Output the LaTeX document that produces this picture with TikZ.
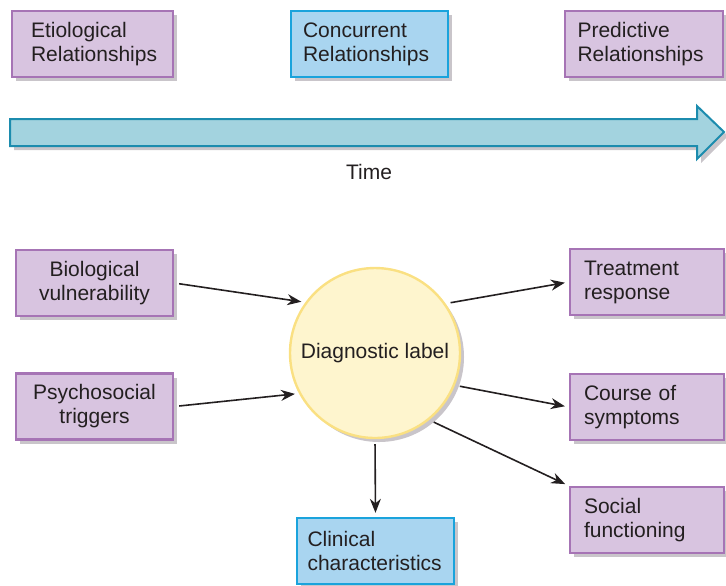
\documentclass[tikz,border=0pt]{standalone}
\usepackage{fontspec}
\setmainfont{Liberation Sans}
\usepackage{tikz}
\usetikzlibrary{arrows.meta, shadows}

\definecolor{boxpurple}{RGB}{216,196,224}
\definecolor{edgepurple}{RGB}{166,116,181}
\definecolor{boxblue}{RGB}{169,213,240}
\definecolor{edgeblue}{RGB}{26,163,220}
\definecolor{timefill}{RGB}{163,211,223}
\definecolor{timeedge}{RGB}{28,140,174}
\definecolor{labelfill}{RGB}{254,245,206}
\definecolor{labeledge}{RGB}{250,224,130}
\definecolor{shadowgray}{RGB}{201,197,202}
\definecolor{textdark}{RGB}{35,31,32}

\begin{document}
	\begin{tikzpicture}[x=0.5pt, y=-0.5pt,
		every node/.style={font=\fontsize{10.5}{12}\selectfont, text=textdark},
		boxshadow/.style={drop shadow={shadow xshift=2pt, shadow yshift=-2pt, fill=shadowgray, opacity=1}},
		purplebox/.style={draw=edgepurple, fill=boxpurple, line width=1.2pt, boxshadow, minimum height=33pt, align=left},
		bluebox/.style={draw=edgeblue, fill=boxblue, line width=1.2pt, boxshadow, minimum height=33pt, align=left},
		conn/.style={-{Stealth[length=7pt, width=5.5pt]}, line width=0.8pt, draw=textdark, shorten <=2.5pt, shorten >=2pt}]
		
		\useasboundingbox (0,0) rectangle (726,585);
		
		% time line
		\draw [fill=timefill, draw=timeedge, line width=1pt, boxshadow]
			(10,119) -- (697,119) -- (697,106) -- (724,132) -- (697,159) -- (697,146) -- (10,146) -- cycle;
		\node (time) at (369,172) {Time};
		
		\node [purplebox, text width=61.5pt, inner xsep=9.5pt] (etio) at (92.5,44) {Etiological\\Relationships};
		\node [bluebox, text width=66.5pt, inner xsep=6pt] (conc) at (369.5,44) {Concurrent\\Relationships};
		\node [purplebox, text width=66.5pt, inner xsep=6.25pt] (pred) at (644,44) {Predictive\\Relationships};
		
		\node [draw=labeledge, fill=labelfill, line width=1.2pt, circle, minimum size=85pt, boxshadow] (diag) at (375,353) {Diagnostic label};
		
		\node [purplebox, align=center, text width=70pt, inner xsep=4.25pt] (bio) at (94.5,283) {Biological\\vulnerability};
		\node [purplebox, align=center, text width=70pt, inner xsep=4.25pt] (psych) at (94.5,406.5) {Psychosocial\\triggers};
		
		\node [purplebox, text width=63pt, inner xsep=7pt] (treat) at (647,282) {Treatment\\response};
		\node [purplebox, text width=63pt, inner xsep=7pt] (course) at (647,407) {Course of\\symptoms};
		\node [purplebox, text width=63pt, inner xsep=7pt] (social) at (647,520) {Social\\functioning};
		\node [bluebox, text width=68pt, inner xsep=5.25pt] (clin) at (375.5,551) {Clinical\\characteristics};
		
		\begin{scope}
			\draw [conn] (bio.east) -- (diag.144);
			\draw [conn] (psych.east) -- (diag.208);
			\draw [conn] (diag.35) -- (treat.west);
			\draw [conn] (diag.338) -- (course.west);
			\draw [conn] (diag.309) -- (social.north west);
			\draw [conn] (diag.south) -- (clin.north);
		\end{scope}
	\end{tikzpicture}
\end{document}
